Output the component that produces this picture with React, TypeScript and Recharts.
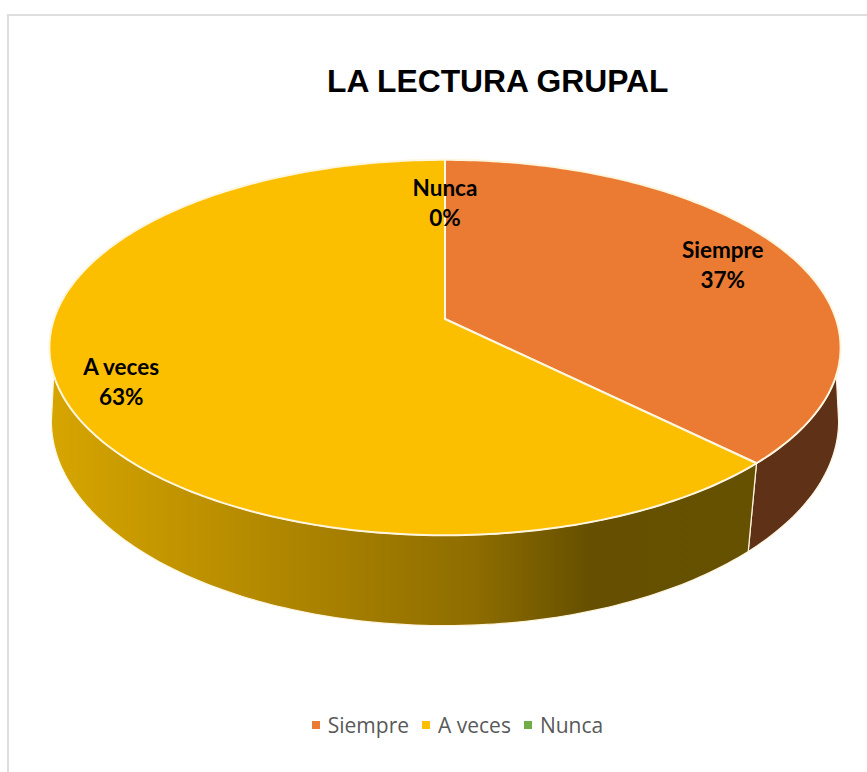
import { PieChart, Pie, Cell, Legend } from "recharts";

const categories = ["Siempre", "A veces", "Nunca"];
const values = [37.4, 62.6, 0];
const topColors = ["#eb7b32", "#fbbf00", "#70ad47"];
const sideColors = ["#5f3116", "url(#sideGold)", "#3f6428"];

const chartData = categories.map((name, i) => ({ name, value: values[i] }));

// how far out each label sits along its slice's mid-angle
const labelReach: Record<string, number> = { Siempre: 0.815, "A veces": 0.845, Nunca: 0.73 };

// tilted disc: the circle is run through a small perspective so the far side shrinks
const TILT = 0.469;
const PERSPECTIVE = 0.152;
const LOWER_DROP = 71;
const LOWER_SQUASH = 1.095;

// clockwise degrees from 12 o'clock, the front edge of the disc is only visible in these ranges
const RIM_FRONT = [107, 253];
const BASE_FRONT = [98.7, 261.3];
const BASE_SKEW = 1.4;

function project(cx: number, cy: number, r: number, deg: number, squash = 1, drop = 0) {
  const t = (deg * Math.PI) / 180;
  const u = Math.sin(t);
  const v = -Math.cos(t);
  const w = 1 - PERSPECTIVE * v;
  return [cx + (r * u) / w, cy + drop + (r * TILT * squash * v) / w];
}

function sweep(from: number, to: number) {
  const steps = Math.max(1, Math.ceil(Math.abs(to - from)));
  return Array.from({ length: steps + 1 }, (_, i) => from + ((to - from) * i) / steps);
}

const toPath = (pts: number[][]) =>
  pts.map((p, i) => `${i ? "L" : "M"}${p[0].toFixed(2)} ${p[1].toFixed(2)}`).join(" ") + " Z";

function DiscSlice(props: any) {
  const { cx, cy, outerRadius, startAngle, endAngle, fill, index } = props;
  const a = 90 - Math.max(startAngle, endAngle);
  const b = 90 - Math.min(startAngle, endAngle);
  if (b - a < 0.01) return null;

  const top = [
    [cx, cy],
    ...sweep(a, b).map((d) => project(cx, cy, outerRadius, d)),
  ];

  const rimFrom = Math.max(a, RIM_FRONT[0]);
  const rimTo = Math.min(b, RIM_FRONT[1]);
  const baseFrom = a <= RIM_FRONT[0] ? BASE_FRONT[0] : a + BASE_SKEW;
  const baseTo = b >= RIM_FRONT[1] ? BASE_FRONT[1] : b + BASE_SKEW;
  const side = [
    ...sweep(rimFrom, rimTo).map((d) => project(cx, cy, outerRadius, d)),
    ...sweep(baseTo, baseFrom).map((d) =>
      project(cx, cy, outerRadius * 0.995, d, LOWER_SQUASH, LOWER_DROP)
    ),
  ];

  return (
    <g>
      {rimTo > rimFrom && (
        <path d={toPath(side)} fill={sideColors[index]} stroke="#fff6e0" strokeWidth={1.2} />
      )}
      <path d={toPath(top)} fill={fill} stroke="#fff6e0" strokeWidth={2} strokeLinejoin="round" />
    </g>
  );
}

function SliceLabel(props: any) {
  const { cx, cy, outerRadius, midAngle, percent, name } = props;
  const [x, y] = project(cx, cy, outerRadius * labelReach[name], 90 - midAngle);
  return (
    <text
      x={x}
      y={y}
      textAnchor="middle"
      fontFamily="Lato, sans-serif"
      fontWeight={700}
      fontSize={22.5}
      fill="#000"
    >
      <tspan x={x} dy={-7}>
        {name}
      </tspan>
      <tspan x={x} dy={30}>
        {Math.round(percent * 100)}%
      </tspan>
    </text>
  );
}

function LegendRow() {
  return (
    <div style={{ display: "flex", justifyContent: "center", alignItems: "center", gap: 13 }}>
      {categories.map((name, i) => (
        <div key={name} style={{ display: "flex", alignItems: "center", gap: 8 }}>
          <span style={{ width: 8, height: 8, background: topColors[i], display: "block" }} />
          <span
            style={{
              fontFamily: "'Open Sans', sans-serif",
              fontSize: 21,
              lineHeight: "24px",
              color: "#595959",
            }}
          >
            {name}
          </span>
        </div>
      ))}
    </div>
  );
}

export default function App() {
  return (
    <div style={{ position: "absolute", left: 0, top: 0, width: 867, height: 772, background: "#fff", overflow: "hidden" }}>
      <div
        style={{
          position: "absolute",
          left: 7,
          top: 14,
          right: 0,
          bottom: 0,
          borderLeft: "2px solid #dedede",
          borderTop: "2px solid #dedede",
        }}
      />
      <div
        style={{
          position: "absolute",
          left: 327,
          top: 63,
          fontFamily: "'Liberation Sans', sans-serif",
          fontWeight: 700,
          fontSize: 31.8,
          lineHeight: "36px",
          whiteSpace: "nowrap",
          color: "#000",
        }}
      >
        LA LECTURA GRUPAL
      </div>
      <PieChart
        width={867}
        height={772}
        margin={{ top: 0, right: 0, bottom: 0, left: 0 }}
        style={{ position: "absolute", left: 0, top: 0 }}
      >
        <defs>
          <linearGradient id="sideGold" gradientUnits="userSpaceOnUse" x1="52" y1="0" x2="750" y2="0">
            <stop offset="0" stopColor="#d6a500" />
            <stop offset="0.3" stopColor="#b38900" />
            <stop offset="0.6" stopColor="#8f6e00" />
            <stop offset="0.77" stopColor="#665000" />
            <stop offset="1" stopColor="#655100" />
          </linearGradient>
        </defs>
        <Pie
          data={chartData}
          dataKey="value"
          nameKey="name"
          cx={445}
          cy={319}
          outerRadius={391}
          startAngle={90}
          endAngle={-270}
          stroke="none"
          shape={DiscSlice}
          label={SliceLabel}
          labelLine={false}
          isAnimationActive={false}
        >
          {chartData.map((d, i) => (
            <Cell key={d.name} fill={topColors[i]} />
          ))}
        </Pie>
        <Legend
          content={LegendRow}
          wrapperStyle={{ position: "absolute", left: 24, top: 713, width: 867, height: 24 }}
        />
      </PieChart>
    </div>
  );
}
